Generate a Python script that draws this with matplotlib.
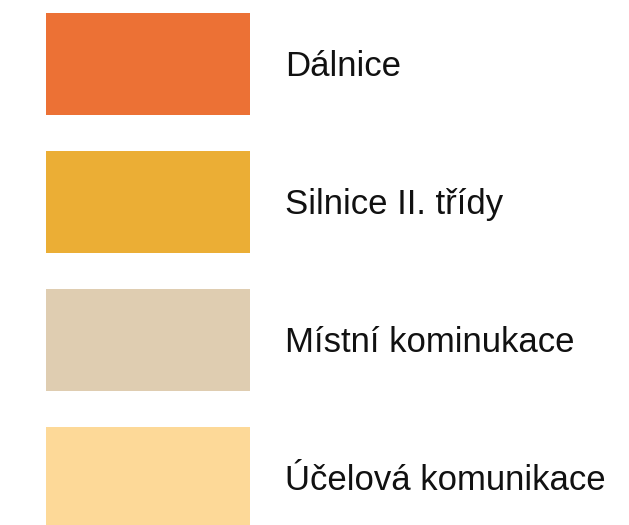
import matplotlib
matplotlib.use('Agg')
import matplotlib.pyplot as plt

# legenda typů komunikací
categories = ['Dálnice', 'Silnice II. třídy', 'Místní kominukace', 'Účelová komunikace']
colors = ['#EC7135', '#EBAE35', '#DFCDB1', '#FDD998']

plt.rcParams['font.family'] = ['Liberation Sans', 'DejaVu Sans']

fig = plt.figure(figsize=(6.29, 5.25), dpi=100)
ax = fig.add_axes([0, 0, 1, 1])

y = list(range(len(categories)))
ax.barh(y, [204] * len(y), left=46, height=102 / 138, color=colors, edgecolor='none')
for i, label in enumerate(categories):
	# účaří je cca 12 px pod středem obdélníku
	ax.text(285, i + 12 / 138, label, va='baseline', ha='left', fontsize=25, color='#111111')

ax.set_xlim(0, 629)
ax.set_ylim((525 - 64) / 138, -64 / 138)
ax.axis('off')

plt.savefig('out.png', dpi=100)
